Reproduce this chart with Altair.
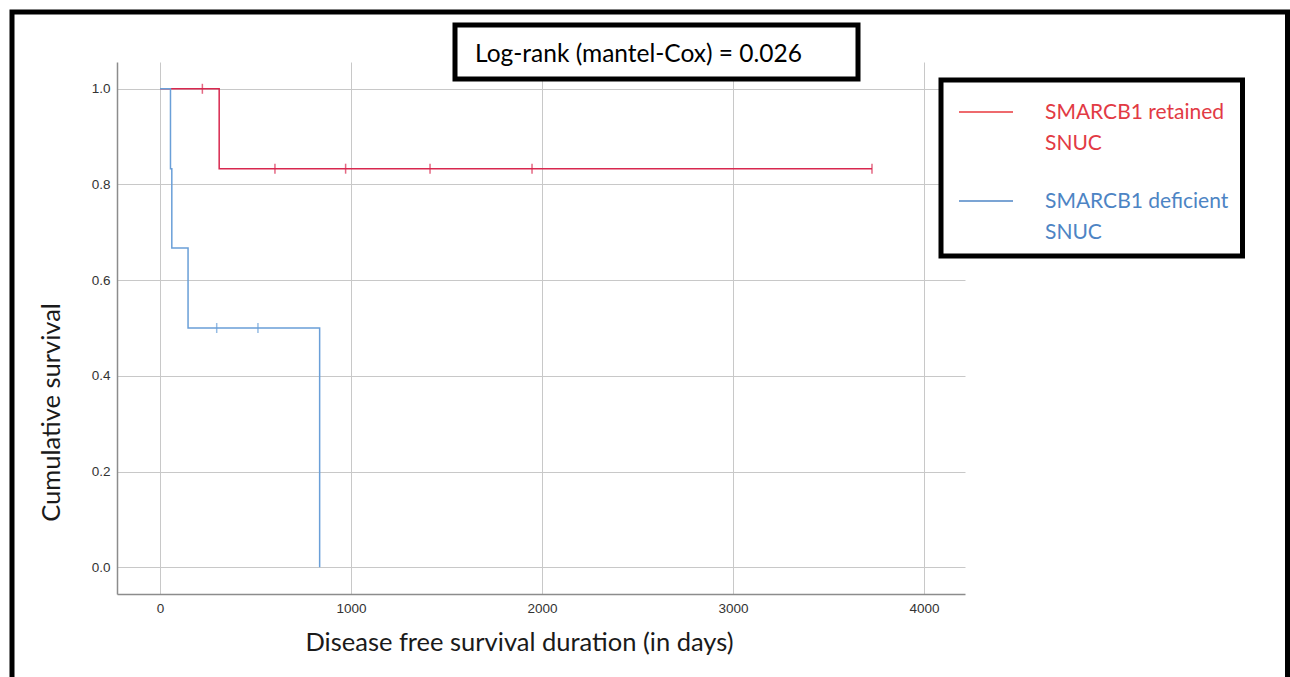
import altair as alt
import pandas as pd

# ---- data ----
groups = ["SMARCB1 retained SNUC", "SMARCB1 deficient SNUC"]
legend_lines = ["SMARCB1 retained\nSNUC", "SMARCB1 deficient\nSNUC"]
line_colors = ["#d8284f", "#6a9fd8"]
legend_line_colors = ["#e8383d", "#4f86c6"]
legend_text_colors = ["#e23a44", "#4d84c4"]

ret_time = [0, 310, 3728]
ret_surv = [1.0, 0.833, 0.833]
ret_cens_time = [222, 602, 972, 1414, 1948, 3728]
ret_cens_surv = [1.0, 0.833, 0.833, 0.833, 0.833, 0.833]

def_time = [0, 55, 62, 147, 836]
def_surv = [1.0, 0.833, 0.667, 0.5, 0.0]
def_cens_time = [297, 513]
def_cens_surv = [0.5, 0.5]

x_ticks = [0, 1000, 2000, 3000, 4000]
y_ticks = [0.0, 0.2, 0.4, 0.6, 0.8, 1.0]

logrank_text = "Log-rank (mantel-Cox) = 0.026"
x_title = "Disease free survival duration (in days)"
y_title = "Cumulative survival"

# ---- tables ----
curves = pd.DataFrame({
    "time": ret_time + def_time,
    "surv": ret_surv + def_surv,
    "group": [groups[0]] * len(ret_time) + [groups[1]] * len(def_time),
})
cens = pd.DataFrame({
    "time": ret_cens_time + def_cens_time,
    "surv": ret_cens_surv + def_cens_surv,
    "group": [groups[0]] * len(ret_cens_time) + [groups[1]] * len(def_cens_time),
})

W, H = 848, 532
xs = alt.Scale(domain=[-225, 4215], nice=False, zero=False)
ys = alt.Scale(domain=[-0.056, 1.056], nice=False, zero=False)
cs = alt.Scale(domain=groups, range=line_colors)

x_enc = alt.X("time:Q", scale=xs, axis=alt.Axis(
    values=x_ticks, format="d", title=x_title, grid=True,
    titleX=402, titleY=48, titleAlign="center", titleBaseline="middle"))
y_enc = alt.Y("surv:Q", scale=ys, axis=alt.Axis(
    values=y_ticks, format=".1f", title=y_title, grid=True,
    titleX=-66, titleY=350, titleAlign="center", titleBaseline="middle"))

lines = alt.Chart(curves).mark_line(interpolate="step-after", strokeWidth=1.5).encode(
    x=x_enc, y=y_enc,
    color=alt.Color("group:N", scale=cs, legend=None),
    detail="group:N",
)
ticks = alt.Chart(cens).mark_tick(orient="vertical", size=10, thickness=1.5).encode(
    x=alt.X("time:Q", scale=xs),
    y=alt.Y("surv:Q", scale=ys),
    color=alt.Color("group:N", scale=cs, legend=None),
)

one = pd.DataFrame({"a": [0]})

frame = alt.Chart(one).mark_rect(fill="transparent", stroke="black", strokeWidth=5).encode(
    x=alt.value(-105), x2=alt.value(1170.5), y=alt.value(-50), y2=alt.value(700))

title_box = alt.Chart(one).mark_rect(fill="white", stroke="black", strokeWidth=5).encode(
    x=alt.value(338), x2=alt.value(741), y=alt.value(-37), y2=alt.value(17))
title_txt = alt.Chart(pd.DataFrame({"t": [logrank_text]})).mark_text(
    font="Lato", fontSize=24.5, align="left", baseline="alphabetic", color="black").encode(
    text="t:N", x=alt.value(358), y=alt.value(0))

legend_box = alt.Chart(one).mark_rect(fill="white", stroke="black", strokeWidth=5).encode(
    x=alt.value(824), x2=alt.value(1125.5), y=alt.value(18), y2=alt.value(194))

leg_layers = []
leg_y_line = [50, 139]
leg_y_text = [57, 146]
for i in range(len(groups)):
    d = pd.DataFrame({"t": [legend_lines[i]]})
    leg_layers.append(alt.Chart(d).mark_rule(color=legend_line_colors[i], strokeWidth=1.5).encode(
        x=alt.value(842), x2=alt.value(896), y=alt.value(leg_y_line[i])))
    leg_layers.append(alt.Chart(d).mark_text(
        font="Lato", fontSize=21, align="left", baseline="alphabetic",
        lineBreak="\n", lineHeight=31, color=legend_text_colors[i]).encode(
        text="t:N", x=alt.value(928), y=alt.value(leg_y_text[i])))

chart = alt.layer(
    frame, lines, ticks, title_box, title_txt, legend_box, *leg_layers
).properties(
    width=W, height=H,
    autosize=alt.AutoSizeParams(type="none"),
    padding={"left": 117, "top": 62, "right": 1290 - 117 - W, "bottom": 677 - 62 - H},
    background="white",
).configure_view(stroke=None).configure_axis(
    domainColor="#8c8c8c", domainWidth=1.5,
    gridColor="#c8c8c8", gridWidth=1,
    ticks=False, labelPadding=7,
    labelFont="Liberation Sans", labelFontSize=13.5, labelColor="#333333",
    titleFont="Lato", titleFontSize=25.5, titleFontWeight="normal", titleColor="#1a1a1a",
)

chart.save("out.html", embed_options={"renderer": "svg", "actions": False})
